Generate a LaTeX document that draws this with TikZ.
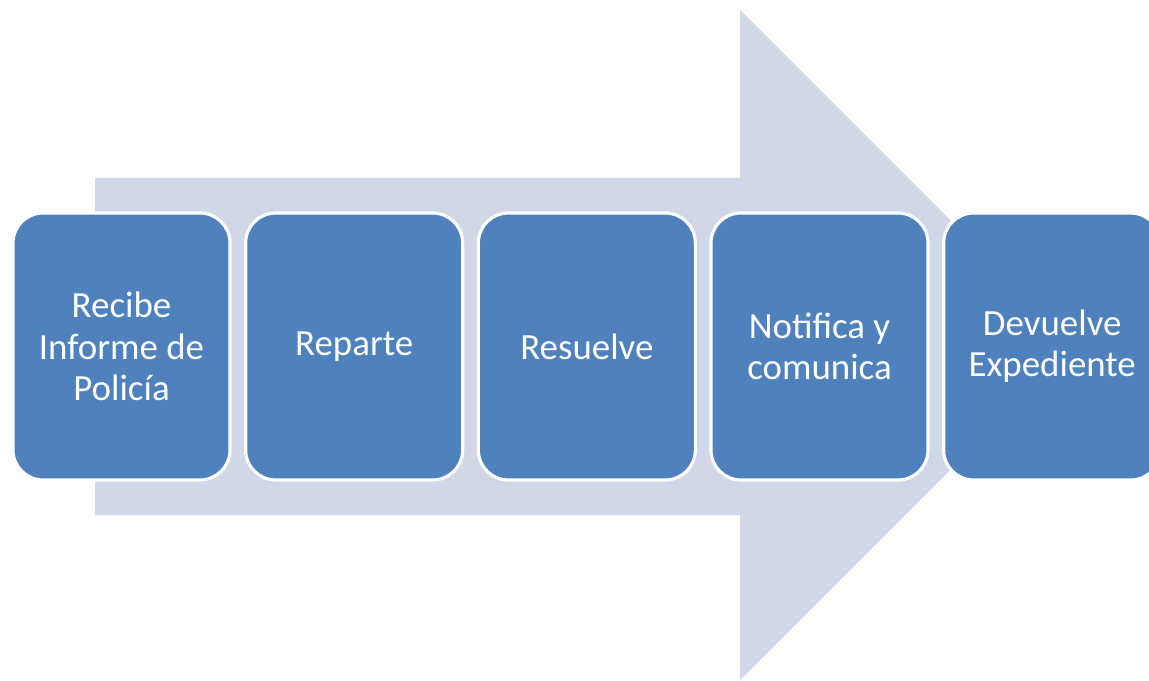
\documentclass[tikz,border=0pt]{standalone}
\usepackage{fontspec}
\setmainfont{Carlito}
\usetikzlibrary{positioning}
\definecolor{stageblue}{HTML}{4F81BD}
\definecolor{arrowgray}{HTML}{D0D8E8}
\tikzstyle{stage} = [rectangle, rounded corners=0.6cm, minimum width=4.34cm, minimum height=5.34cm, align=center, draw=white, line width=1.8pt, fill=stageblue, text=white, font=\fontsize{21}{23.5}\selectfont]
\tikzstyle{bigarrow} = [fill=arrowgray, draw=none]

\begin{document}
\begin{tikzpicture}[x=0.2mm, y=-0.2mm, node distance=0.25cm]
   \useasboundingbox (0,0) rectangle (1149,681);
   \clip (0,0) rectangle (1149,681);
   % background arrow
   \fill [bigarrow] (95,178) -- (740,178) -- (740,10) -- (1075,345) -- (740,680) -- (740,515) -- (95,515) -- cycle;

   \node (recibe) [stage] at (121.5,346.5) {Recibe\\Informe de\\Policía};
   \node (reparte) [stage, right=of recibe] {Reparte};
   \node (resuelve) [stage, right=of reparte] {Resuelve};
   \node (notifica) [stage, right=of resuelve] {Notifica y\\comunica};
   \node (devuelve) [stage, right=of notifica] {Devuelve\\Expediente};
\end{tikzpicture}
\end{document}
